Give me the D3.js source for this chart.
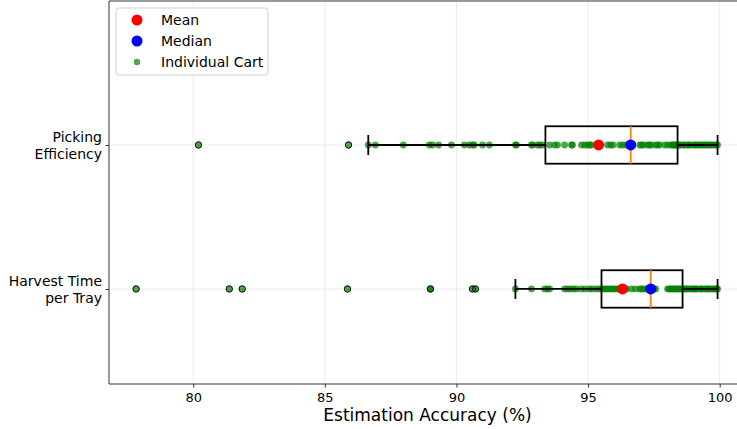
<!DOCTYPE html>
<html>
<head>
<meta charset="utf-8">
<script src="https://cdn.jsdelivr.net/npm/d3@7"></script>
<style>
  body { margin: 0; background: #fff; }
  svg { display: block; }
  svg text { font-family: "DejaVu Sans", Verdana, sans-serif; }
  .grid line { stroke: #e6e6e6; stroke-width: 0.8; }
  .axis path { display: none; }
  .axis line { stroke: #333; }
  .axis text { fill: #000; }
</style>
</head>
<body>
<svg id="chart" width="737" height="429"></svg>
<script>
/*
 * Data
 */
var categories = ['Harvest Time\nper Tray', 'Picking\nEfficiency'];
var positions = [1, 2];
var xTicks = [80, 85, 90, 95, 100];

var harvestValues = [
  77.83, 81.37, 81.86, 85.86, 89.01, 89.02, 90.61, 90.72,
  92.24, 92.85, 93.35, 93.46, 93.54, 94.11, 94.22, 94.33, 94.45, 94.56,
  94.75, 94.90, 95.06, 95.17, 95.32, 95.44,
  95.55, 95.62, 95.70, 95.78, 95.86, 95.93, 96.01, 96.10, 96.16, 96.46,
  96.65, 96.80, 96.96, 97.03, 97.11, 97.22, 97.30, 97.38,
  97.45, 97.51, 97.57, 98.02, 98.08, 98.14, 98.20, 98.25, 98.31, 98.37,
  98.42, 98.48, 98.53, 98.59,
  98.63, 98.70, 98.74, 98.81, 98.90, 98.95, 99.04, 99.10, 99.13, 99.25,
  99.31, 99.36, 99.47, 99.52, 99.58, 99.66, 99.71, 99.79, 99.84, 99.88, 99.92
];
var pickingValues = [
  80.2, 85.9,
  86.65, 86.92, 87.98, 88.97, 89.09, 89.32, 89.81, 90.30, 90.49, 90.61,
  90.68, 90.99, 91.25, 92.24, 92.28, 92.85, 92.89, 93.08, 93.16, 93.27,
  93.54, 93.73, 93.84, 94.11, 94.37, 94.41, 94.75, 94.87, 94.98, 95.06,
  95.12, 95.74, 95.86, 95.95, 96.20, 96.31, 96.45,
  96.96, 97.04, 97.11, 97.26, 97.33, 97.41, 97.57, 97.65, 97.72, 97.91,
  98.02, 98.14, 98.21, 98.25, 98.30, 98.35, 98.40,
  98.46, 98.51, 98.62, 98.66, 98.77, 98.83, 98.88, 99.01, 99.05, 99.14,
  99.19, 99.30, 99.33, 99.44, 99.49, 99.57, 99.66, 99.70, 99.81, 99.86, 99.92
];
var seriesValues = [harvestValues, pickingValues];

// Box statistics as drawn in the reference (harvest, picking)
var q1Values = [95.51, 93.38];
var medianValues = [97.38, 96.62];
var q3Values = [98.59, 98.40];
var meanValues = [96.31, 95.40];
var whiskerLow = [92.24, 86.65];
var whiskerHigh = [99.92, 99.92];
var flierValues = [
  [77.83, 81.37, 81.86, 85.86, 89.01, 90.61, 90.72],
  [80.2, 85.9]
];

var legendLabels = ['Mean', 'Median', 'Individual Cart'];

var svg = d3.select('#chart');
var margin = { top: 1, left: 109 };
var plotRight = 746;

var x = d3.scaleLinear().domain([76.8, 101.0]).range([margin.left, plotRight]);
var y = d3.scaleLinear().domain([0.34, 3.0]).range([384, margin.top]);
var boxHalf = 0.13;

/*
 * Grid
 */
var grid = svg.append('g').attr('class', 'grid');
grid.selectAll('.vx').data(xTicks).enter().append('line')
  .attr('x1', function(d) { return x(d); })
  .attr('x2', function(d) { return x(d); })
  .attr('y1', y.range()[1])
  .attr('y2', y.range()[0]);
grid.selectAll('.hy').data(positions).enter().append('line')
  .attr('x1', margin.left)
  .attr('x2', plotRight)
  .attr('y1', function(d) { return y(d); })
  .attr('y2', function(d) { return y(d); });

/*
 * Individual points
 */
positions.forEach(function(pos, i) {
  svg.append('g').selectAll('circle')
    .data(seriesValues[i])
    .enter().append('circle')
    .attr('cx', function(d) { return x(d); })
    .attr('cy', y(pos))
    .attr('r', 3.4)
    .attr('fill', 'green')
    .attr('fill-opacity', 0.7);
});

/*
 * Box plots
 */
positions.forEach(function(pos, i) {
  var g = svg.append('g');
  var cy = y(pos);
  var top = y(pos + boxHalf);
  var bottom = y(pos - boxHalf);

  // whiskers
  g.append('line')
    .attr('x1', x(whiskerLow[i])).attr('x2', x(q1Values[i]))
    .attr('y1', cy).attr('y2', cy);
  g.append('line')
    .attr('x1', x(q3Values[i])).attr('x2', x(whiskerHigh[i]))
    .attr('y1', cy).attr('y2', cy);
  // caps
  [whiskerLow[i], whiskerHigh[i]].forEach(function(v) {
    g.append('line')
      .attr('x1', x(v)).attr('x2', x(v))
      .attr('y1', cy - 10).attr('y2', cy + 10);
  });
  g.selectAll('line').attr('stroke', '#000').attr('stroke-width', 1.8);

  g.append('rect')
    .attr('x', x(q1Values[i]))
    .attr('y', top)
    .attr('width', x(q3Values[i]) - x(q1Values[i]))
    .attr('height', bottom - top)
    .attr('fill', 'none')
    .attr('stroke', '#000')
    .attr('stroke-width', 1.8);

  g.append('line')
    .attr('x1', x(medianValues[i])).attr('x2', x(medianValues[i]))
    .attr('y1', top).attr('y2', bottom)
    .attr('stroke', '#ff7f0e')
    .attr('stroke-width', 1.8);

  g.selectAll('.flier').data(flierValues[i]).enter().append('circle')
    .attr('cx', function(d) { return x(d); })
    .attr('cy', cy)
    .attr('r', 3.2)
    .attr('fill', 'none')
    .attr('stroke', '#111')
    .attr('stroke-width', 1);

  g.append('circle')
    .attr('cx', x(meanValues[i])).attr('cy', cy).attr('r', 5.5)
    .attr('fill', 'red');
  g.append('circle')
    .attr('cx', x(medianValues[i])).attr('cy', cy).attr('r', 5.5)
    .attr('fill', 'blue');
});

/*
 * Axes
 */
var xAxis = svg.append('g')
  .attr('class', 'axis')
  .attr('transform', 'translate(0,' + y.range()[0] + ')')
  .call(d3.axisBottom(x).tickValues(xTicks).tickSize(3.5).tickPadding(5));
xAxis.selectAll('text').attr('font-size', 13);

var yAxis = svg.append('g')
  .attr('class', 'axis')
  .attr('transform', 'translate(' + margin.left + ',0)')
  .call(d3.axisLeft(y).tickValues(positions).tickSize(3.5).tickFormat(''));
yAxis.selectAll('.tick').append('text')
  .attr('x', -7)
  .attr('text-anchor', 'end')
  .attr('font-size', 14)
  .each(function(d) {
    var lines = categories[positions.indexOf(d)].split('\n');
    var t = d3.select(this);
    lines.forEach(function(line, k) {
      t.append('tspan')
        .attr('x', -7)
        .attr('y', (k - 0.5) * 17 + 5)
        .text(line);
    });
  });

// spines
[[margin.left, plotRight, y.range()[0], y.range()[0]],
 [margin.left, plotRight, y.range()[1], y.range()[1]],
 [margin.left, margin.left, y.range()[1], y.range()[0]]].forEach(function(s) {
  svg.append('line')
    .attr('x1', s[0]).attr('x2', s[1])
    .attr('y1', s[2]).attr('y2', s[3])
    .attr('stroke', '#333').attr('stroke-width', 1);
});

svg.append('text')
  .attr('x', (margin.left + plotRight) / 2)
  .attr('y', 421)
  .attr('text-anchor', 'middle')
  .attr('font-size', 17)
  .text('Estimation Accuracy (%)');

/*
 * Legend
 */
var legend = svg.append('g').attr('transform', 'translate(116,8)');
legend.append('rect')
  .attr('width', 152).attr('height', 67)
  .attr('rx', 3)
  .attr('fill', '#fff').attr('fill-opacity', 0.8)
  .attr('stroke', '#d0d0d0');
var legendColors = ['red', 'blue', 'green'];
var legendSizes = [5.5, 5.5, 3.2];
legendLabels.forEach(function(label, i) {
  var ly = 12 + i * 21;
  legend.append('circle')
    .attr('cx', 21).attr('cy', ly).attr('r', legendSizes[i])
    .attr('fill', legendColors[i])
    .attr('fill-opacity', i === 2 ? 0.7 : 1);
  legend.append('text')
    .attr('x', 45).attr('y', ly + 5)
    .attr('font-size', 14)
    .text(label);
});
</script>
</body>
</html>
